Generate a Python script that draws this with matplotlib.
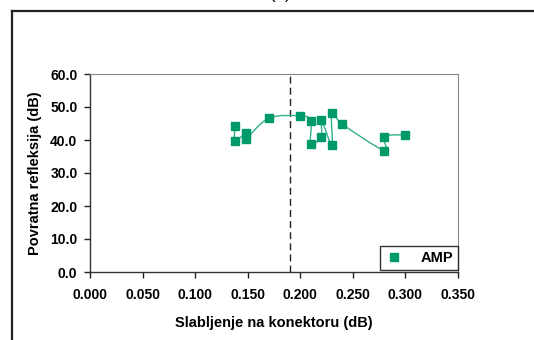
import numpy as np
import matplotlib
matplotlib.use("Agg")
import matplotlib.pyplot as plt
from matplotlib.path import Path
from matplotlib.patches import PathPatch
from matplotlib.lines import Line2D

# ---- data ----
attenuation = [0.138, 0.138, 0.148, 0.148, 0.170, 0.200, 0.210, 0.210,
               0.220, 0.220, 0.230, 0.230, 0.240, 0.280, 0.280, 0.300]
return_loss = [44.3, 39.8, 42.0, 40.2, 46.6, 47.3, 45.8, 38.9,
               41.0, 46.1, 38.6, 48.3, 44.8, 36.8, 41.0, 41.6]
series_name = "AMP"
threshold_x = 0.19
x_ticks = [0.0, 0.05, 0.10, 0.15, 0.20, 0.25, 0.30, 0.35]
y_ticks = [0.0, 10.0, 20.0, 30.0, 40.0, 50.0, 60.0]
x_label = "Slabljenje na konektoru (dB)"
y_label = "Povratna refleksija (dB)"
panel_title = "(a)"

marker_color = "#009a6a"
line_color = "#33b08c"

plt.rcParams['font.family'] = ['Liberation Sans', 'DejaVu Sans']

fig = plt.figure(figsize=(5.34, 3.40), dpi=100)
W, H = 534, 340
ax = fig.add_axes([90 / W, 1 - 272 / H, (458 - 90) / W, (272 - 74) / H])

# smoothed line (Excel-style Catmull-Rom bezier) in data coordinates
pts = np.column_stack([attenuation, return_loss]).astype(float)
verts = [tuple(pts[0])]
codes = [Path.MOVETO]
n = len(pts)
for i in range(n - 1):
    p0 = pts[i - 1] if i > 0 else pts[i]
    p1 = pts[i]
    p2 = pts[i + 1]
    p3 = pts[i + 2] if i + 2 < n else pts[i + 1]
    c1 = p1 + (p2 - p0) / 6.0
    c2 = p2 - (p3 - p1) / 6.0
    verts += [tuple(c1), tuple(c2), tuple(p2)]
    codes += [Path.CURVE4] * 3
ax.add_patch(PathPatch(Path(verts, codes), facecolor='none',
                       edgecolor=line_color, lw=1.0, zorder=2))

ax.plot(attenuation, return_loss, linestyle='none', marker='s',
        markersize=5.5, markerfacecolor=marker_color,
        markeredgecolor=marker_color, zorder=3)
legend_handle = Line2D([], [], linestyle='none', marker='s', markersize=5.5,
                       markerfacecolor=marker_color, markeredgecolor=marker_color)

ax.axvline(threshold_x, color='#222222', lw=1.0, linestyle=(0, (5, 3)), zorder=1)

ax.set_xlim(x_ticks[0], x_ticks[-1])
ax.set_ylim(y_ticks[0], y_ticks[-1])
ax.set_xticks(x_ticks)
ax.set_yticks(y_ticks)
ax.set_xticklabels([f"{v:.3f}" for v in x_ticks])
ax.set_yticklabels([f"{v:.1f}" for v in y_ticks])
ax.tick_params(axis='both', direction='out', length=4, width=1.0,
               color='#222222', labelsize=10)
ax.tick_params(axis='x', pad=7.5)
ax.tick_params(axis='y', pad=5)
for lab in ax.get_xticklabels() + ax.get_yticklabels():
    lab.set_fontweight('bold')

for side in ['left', 'bottom']:
    ax.spines[side].set_color('#333333')
    ax.spines[side].set_linewidth(1.0)
for side in ['top', 'right']:
    ax.spines[side].set_color('#888888')
    ax.spines[side].set_linewidth(0.8)

ax.set_xlabel(x_label, fontsize=10.5, fontweight='bold', labelpad=10)
ax.set_ylabel(y_label, fontsize=10.5, fontweight='bold', labelpad=6)

leg = ax.legend([legend_handle], [series_name], loc='lower right',
                bbox_to_anchor=(1.0, 0.01), frameon=True, fancybox=False,
                edgecolor='black', fontsize=10.5, handlelength=1.2,
                handletextpad=1.2, borderpad=0.35, borderaxespad=0.0)
leg.get_frame().set_linewidth(1.0)
for t in leg.get_texts():
    t.set_fontweight('bold')

# outer chart frame (partially clipped at right/bottom)
fig.add_artist(Line2D([12 / W, 12 / W], [1 - 10.5 / H, 0], transform=fig.transFigure,
                      color='#222222', lw=1.6))
fig.add_artist(Line2D([12 / W, 1.0], [1 - 10.5 / H, 1 - 10.5 / H], transform=fig.transFigure,
                      color='#222222', lw=1.6))

# panel title, mostly outside the top edge (as in the reference)
fig.text(280 / W, 1 + 1.5 / H, panel_title, ha='center', va='baseline', fontsize=12)

fig.savefig("out.png", dpi=100)
